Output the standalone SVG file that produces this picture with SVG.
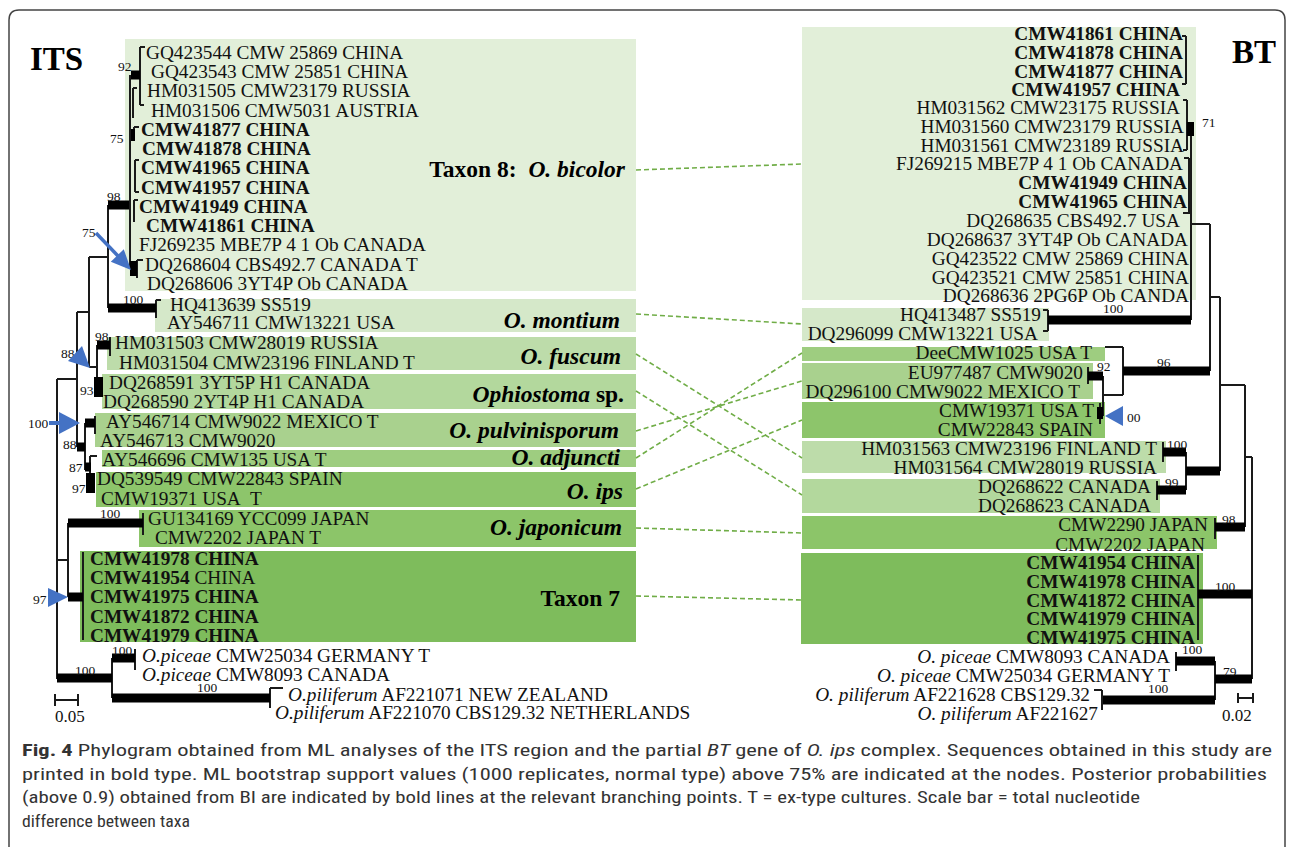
<svg xmlns="http://www.w3.org/2000/svg" width="1290" height="847" viewBox="0 0 1290 847">
<style>
.t{font-family:"Liberation Serif","Times New Roman",serif;font-size:19.3px;fill:#111}
.b{font-weight:bold}
.i{font-style:italic}
.e{text-anchor:end}
.lab{font-family:"Liberation Serif","Times New Roman",serif;font-size:23.5px;font-weight:bold;text-anchor:end;fill:#000}
.bs{font-family:"Liberation Serif","Times New Roman",serif;font-size:13.5px;fill:#111}
.ttl{font-family:"Liberation Serif","Times New Roman",serif;font-size:33px;font-weight:bold;fill:#000}
.ln{stroke:#1a1a1a;stroke-width:2;fill:none}
.tk{stroke:#000;stroke-width:9;fill:none}
.dash{stroke:#70ad47;stroke-width:1.6;stroke-dasharray:5 3;fill:none}
.arr{fill:#4472c4}
.cap{font-family:"Liberation Sans Narrow","Roboto Condensed","Open Sans",sans-serif;font-size:17px;fill:#333}
.c1{fill:#e2efd9}.c2{fill:#d5e8c9}.c3{fill:#bddcaa}.c4{fill:#b3d89d}.c5{fill:#a9d18e}.c6{fill:#9ecd80}.c7{fill:#8dc56b}.c8{fill:#8cc569}.c9{fill:#7ebc5c}
</style>
<rect width="1290" height="847" fill="#fff"/>
<path d="M9,847 V20 Q9,10 19,10 H1275 Q1285,10 1285,20 V847" stroke="#444" stroke-width="1.5" fill="none"/>

<text class="ttl" x="30" y="70">ITS</text>
<text class="ttl" x="1232" y="63">BT</text>

<!-- ITS clade boxes -->
<g id="its-bicolor"><rect class="c1" x="125" y="39" width="511" height="252"/>
<text class="lab" x="625" y="177">Taxon 8:&#160; <tspan class="i">O. bicolor</tspan></text>
<text class="t" x="146" y="59">GQ423544 CMW 25869 CHINA</text>
<text class="t" x="151" y="78">GQ423543 CMW 25851 CHINA</text>
<text class="t" x="147" y="97">HM031505 CMW23179 RUSSIA</text>
<text class="t" x="151" y="117">HM031506 CMW5031 AUSTRIA</text>
<text class="t b" x="141" y="136">CMW41877 CHINA</text>
<text class="t b" x="142" y="155">CMW41878 CHINA</text>
<text class="t b" x="141" y="174">CMW41965 CHINA</text>
<text class="t b" x="141" y="194">CMW41957 CHINA</text>
<text class="t b" x="139" y="213">CMW41949 CHINA</text>
<text class="t b" x="146" y="232">CMW41861 CHINA</text>
<text class="t" x="139" y="251">FJ269235 MBE7P 4 1 Ob CANADA</text>
<text class="t" x="145" y="271">DQ268604 CBS492.7 CANADA T</text>
<text class="t" x="147" y="290">DQ268606 3YT4P Ob CANADA</text>
</g>
<g id="its-montium"><rect class="c2" x="155" y="299" width="481" height="33"/>
<text class="lab" x="620" y="328"><tspan class="i">O. montium</tspan></text>
<text class="t" x="170" y="311">HQ413639 SS519</text>
<text class="t" x="167" y="329">AY546711 CMW13221 USA</text>
</g>
<g id="its-fuscum"><rect class="c3" x="107" y="337" width="529" height="33"/>
<text class="lab" x="621" y="364"><tspan class="i">O. fuscum</tspan></text>
<text class="t" x="115" y="349">HM031503 CMW28019 RUSSIA</text>
<text class="t" x="119" y="369">HM031504 CMW23196 FINLAND T</text>
</g>
<g id="its-ophiostoma"><rect class="c4" x="102" y="374" width="534" height="35"/>
<text class="lab" x="624" y="402"><tspan class="i">Ophiostoma</tspan> sp.</text>
<text class="t" x="109" y="389">DQ268591 3YT5P H1 CANADA</text>
<text class="t" x="103" y="408">DQ268590 2YT4P H1 CANADA</text>
</g>
<g id="its-pulvinisporum"><rect class="c5" x="95" y="413" width="541" height="34"/>
<text class="lab" x="619" y="438"><tspan class="i">O. pulvinisporum</tspan></text>
<text class="t" x="106" y="428">AY546714 CMW9022 MEXICO T</text>
<text class="t" x="100" y="447">AY546713 CMW9020</text>
</g>
<g id="its-adjuncti"><rect class="c6" x="102" y="450" width="534" height="17"/>
<text class="lab" x="620" y="465"><tspan class="i">O. adjuncti</tspan></text>
<text class="t" x="102" y="466">AY546696 CMW135 USA T</text>
</g>
<g id="its-ips"><rect class="c7" x="96" y="472" width="540" height="35"/>
<text class="lab" x="623" y="499"><tspan class="i">O. ips</tspan></text>
<text class="t" x="97" y="485">DQ539549 CMW22843 SPAIN</text>
<text class="t" x="101" y="505">CMW19371 USA&#160; T</text>
</g>
<g id="its-japonicum"><rect class="c8" x="139" y="510" width="497" height="37"/>
<text class="lab" x="622" y="535"><tspan class="i">O. japonicum</tspan></text>
<text class="t" x="148" y="525">GU134169 YCC099 JAPAN</text>
<text class="t" x="155" y="544">CMW2202 JAPAN T</text>
</g>
<g id="its-taxon7"><rect class="c9" x="80" y="551" width="556" height="91"/>
<text class="lab" x="620" y="606">Taxon 7</text>
<text class="t b" x="90" y="565">CMW41978 CHINA</text>
<text class="t" x="90" y="584"><tspan class="b">CMW41954</tspan> CHINA</text>
<text class="t b" x="90" y="603">CMW41975 CHINA</text>
<text class="t b" x="90" y="623">CMW41872 CHINA</text>
<text class="t b" x="90" y="642">CMW41979 CHINA</text>
</g>
<g id="its-outgroup">
<text class="t" x="142" y="662"><tspan class="i">O.piceae</tspan> CMW25034 GERMANY T</text>
<text class="t" x="142" y="681"><tspan class="i">O.piceae</tspan> CMW8093 CANADA</text>
<text class="t" x="288" y="701"><tspan class="i">O.piliferum</tspan> AF221071 NEW ZEALAND</text>
<text class="t" x="275" y="719"><tspan class="i">O.piliferum</tspan> AF221070 CBS129.32 NETHERLANDS</text>
</g>

<!-- BT clade boxes -->
<g id="bt-bicolor"><rect class="c1" x="802" y="27" width="394" height="273"/>
<text class="t b e" x="1183" y="40">CMW41861 CHINA</text>
<text class="t b e" x="1183" y="59">CMW41878 CHINA</text>
<text class="t b e" x="1183" y="78">CMW41877 CHINA</text>
<text class="t b e" x="1180" y="96">CMW41957 CHINA</text>
<text class="t e" x="1180" y="114">HM031562 CMW23175 RUSSIA</text>
<text class="t e" x="1184" y="133">HM031560 CMW23179 RUSSIA</text>
<text class="t e" x="1184" y="152">HM031561 CMW23189 RUSSIA</text>
<text class="t e" x="1183" y="170">FJ269215 MBE7P 4 1 Ob CANADA</text>
<text class="t b e" x="1187" y="189">CMW41949 CHINA</text>
<text class="t b e" x="1187" y="208">CMW41965 CHINA</text>
<text class="t e" x="1180" y="227">DQ268635 CBS492.7 USA</text>
<text class="t e" x="1188" y="246">DQ268637 3YT4P Ob CANADA</text>
<text class="t e" x="1189" y="265">GQ423522 CMW 25869 CHINA</text>
<text class="t e" x="1189" y="284">GQ423521 CMW 25851 CHINA</text>
<text class="t e" x="1189" y="302">DQ268636 2PG6P Ob CANDA</text>
</g>
<g id="bt-montium"><rect class="c2" x="802" y="308" width="247" height="33"/>
<text class="t e" x="1041" y="321">HQ413487 SS519</text>
<text class="t e" x="1038" y="340">DQ296099 CMW13221 USA</text>
</g>
<g id="bt-adjuncti"><rect class="c6" x="802" y="347" width="303" height="14"/>
<text class="t e" x="1092" y="359">DeeCMW1025 USA T</text>
</g>
<g id="bt-pulvinisporum"><rect class="c5" x="802" y="363" width="291" height="36"/>
<text class="t e" x="1083" y="379">EU977487 CMW9020</text>
<text class="t e" x="1080" y="398">DQ296100 CMW9022 MEXICO T</text>
</g>
<g id="bt-ips"><rect class="c7" x="802" y="402" width="303" height="36"/>
<text class="t e" x="1094" y="417">CMW19371 USA T</text>
<text class="t e" x="1093" y="436">CMW22843 SPAIN</text>
</g>
<g id="bt-fuscum"><rect class="c3" x="802" y="441" width="364" height="32"/>
<text class="t e" x="1157" y="455">HM031563 CMW23196 FINLAND T</text>
<text class="t e" x="1157" y="474">HM031564 CMW28019 RUSSIA</text>
</g>
<g id="bt-ophiostoma"><rect class="c4" x="802" y="479" width="358" height="34"/>
<text class="t e" x="1151" y="493">DQ268622 CANADA</text>
<text class="t e" x="1151" y="512">DQ268623 CANADA</text>
</g>
<g id="bt-japonicum"><rect class="c8" x="802" y="516" width="415" height="33"/>
<text class="t e" x="1208" y="531">CMW2290 JAPAN</text>
<text class="t e" x="1205" y="551">CMW2202 JAPAN</text>
</g>
<g id="bt-taxon7"><rect class="c9" x="801" y="553" width="402" height="91"/>
<text class="t b e" x="1195" y="569">CMW41954 CHINA</text>
<text class="t b e" x="1195" y="588">CMW41978 CHINA</text>
<text class="t b e" x="1195" y="607">CMW41872 CHINA</text>
<text class="t b e" x="1195" y="625">CMW41979 CHINA</text>
<text class="t b e" x="1195" y="644">CMW41975 CHINA</text>
</g>
<g id="bt-outgroup">
<text class="t e" x="1170" y="663"><tspan class="i">O. piceae</tspan> CMW8093 CANADA</text>
<text class="t e" x="1170" y="682"><tspan class="i">O. piceae</tspan> CMW25034 GERMANY T</text>
<text class="t e" x="1090" y="701"><tspan class="i">O. piliferum</tspan> AF221628 CBS129.32</text>
<text class="t e" x="1098" y="720"><tspan class="i">O. piliferum</tspan> AF221627</text>
</g>

<!-- ITS tree -->
<g id="its-tree">
<path class="ln" d="M57,379 V679 M57,379 H77 M77,312 V447 M77,312 H89 M89,257 V367 M89,257 H108 M108,205 V308 M130,75 V268 M140,47 V105 M140,47 H145 M140,105 H144 M133,88 V118 M133,88 H137 M134,127 V141 M134,127 H139 M135,160 V192 M135,160 H139 M135,192 H139 M134,200 V222 M134,200 H138 M137,260 V278 M137,260 H143 M156,300 V318 M156,300 H161 M89,367 H97 M97,345 V397 M110,337 V356 M95,416 V434 M85,423 V470 M90,456 V493 M90,456 H97 M57,560 H68 M143,513 V535 M112,658 V698 M135,649 V670 M270,688 V708 M270,688 H283"/>
<path class="ln" d="M68,523 V597 M83,552 V640" stroke-width="3"/>
<path class="tk" d="M108,205 H129 M131,75 H140 M108,308 H156 M97,345 H110 M77,447 H85 M85,423 H95 M85,467 H91 M68,523 H143 M68,597 H83"/>
<path class="tk" d="M57,678 H112 M112,658 H135 M112,698 H270" stroke-width="10"/>
<path class="tk" d="M98.5,377 V397 M90.5,473 V493" stroke-width="3.5"/>
<rect x="131" y="129" width="4" height="12" fill="#000"/>
<rect x="130" y="261" width="7" height="15" fill="#000"/>
<path class="ln" d="M55,700 H78 M55,694 V706 M78,694 V706"/>
<text class="t" x="55" y="722" style="font-size:17px">0.05</text>
<text class="bs" x="118" y="71">92</text>
<text class="bs" x="110" y="143">75</text>
<text class="bs" x="107" y="201">98</text>
<text class="bs" x="82" y="237">75</text>
<text class="bs" x="123" y="304">100</text>
<text class="bs" x="95" y="341">98</text>
<text class="bs" x="61" y="358">88</text>
<text class="bs" x="80" y="395">93</text>
<text class="bs" x="28" y="428">100</text>
<text class="bs" x="63" y="449">88</text>
<text class="bs" x="69" y="472">87</text>
<text class="bs" x="72" y="493">97</text>
<text class="bs" x="100" y="518">100</text>
<text class="bs" x="33" y="604">97</text>
<text class="bs" x="112" y="655">100</text>
<text class="bs" x="75" y="675">100</text>
<text class="bs" x="197" y="692">100</text>
</g>

<!-- BT tree -->
<g id="bt-tree">
<path class="ln" d="M1186,36 V84 M1182,36 H1186 M1182,84 H1186 M1187,100 V150 M1183,100 H1187 M1183,150 H1187 M1189,158 V213 M1184,158 H1189 M1183,213 H1191 M1191,128 V320 M1191,224 H1210 M1210,224 V371 M1210,297 H1220 M1220,297 V471 M1220,385 H1245 M1245,385 V527 M1245,457 H1252 M1252,457 V679 M1048,310 V331 M1043,310 H1048 M1043,331 H1048 M1123,347 V395 M1105,347 H1123 M1103,395 H1123 M1103,376 V416 M1088,367 V384 M1100,403 V424 M1163,442 V462 M1157,481 V500 M1186,452 V490 M1215,518 V539 M1198,555 V640 M1176,652 V671 M1215,661 V700 M1102,690 V710 M1094,690 H1102" stroke-width="1.6"/>
<rect x="1187" y="122" width="7" height="14" fill="#000"/>
<rect x="1097" y="407" width="6" height="12" fill="#000"/>
<path class="tk" d="M1048,320 H1191 M1123,371 H1210 M1088,376 H1103 M1163,452 H1186 M1157,490 H1186 M1186,471 H1220 M1215,527 H1245 M1198,594 H1252 M1176,661 H1215 M1215,679 H1252 M1103,700 H1215"/>
<path class="ln" d="M1238,698 H1253 M1238,693 V703 M1253,693 V703" stroke-width="1.6"/>
<text class="t" x="1222" y="721" style="font-size:17px">0.02</text>
<text class="bs" x="1202" y="127">71</text>
<text class="bs" x="1103" y="313">100</text>
<text class="bs" x="1097" y="371">92</text>
<text class="bs" x="1157" y="367">96</text>
<text class="bs" x="1127" y="422">00</text>
<text class="bs" x="1167" y="449">100</text>
<text class="bs" x="1165" y="487">99</text>
<text class="bs" x="1222" y="524">98</text>
<text class="bs" x="1215" y="591">100</text>
<text class="bs" x="1182" y="654">100</text>
<text class="bs" x="1223" y="676">79</text>
<text class="bs" x="1148" y="693">100</text>
</g>

<!-- blue arrows -->
<g id="arrows">
<path d="M96,233 L118,256" stroke="#4472c4" stroke-width="3.5"/>
<polygon class="arr" points="131,270 110.8,261.7 123.8,249.3"/>
<polygon class="arr" points="68,361 82,346 90,368"/>
<path d="M49,423 H61" stroke="#4472c4" stroke-width="4"/>
<polygon class="arr" points="59,412 59,434 80,423"/>
<polygon class="arr" points="48,588 48,607 68,597"/>
<polygon class="arr" points="1105,416 1123,406 1123,426"/>
</g>

<!-- connectors -->
<g id="connectors">
<path class="dash" d="M636,170 L802,164"/>
<path class="dash" d="M636,314 L802,324"/>
<path class="dash" d="M636,354 L802,458"/>
<path class="dash" d="M636,391 L802,495"/>
<path class="dash" d="M636,431 L802,381"/>
<path class="dash" d="M636,458 L802,353"/>
<path class="dash" d="M636,489 L802,420"/>
<path class="dash" d="M636,528 L802,533"/>
<path class="dash" d="M636,596 L802,600"/>
</g>

<!-- caption -->
<g id="caption">
<text class="cap" x="22" y="756" textLength="1250" lengthAdjust="spacingAndGlyphs"><tspan font-weight="bold">Fig. 4</tspan> Phylogram obtained from ML analyses of the ITS region and the partial <tspan font-style="italic">BT</tspan> gene of <tspan font-style="italic">O. ips</tspan> complex. Sequences obtained in this study are</text>
<text class="cap" x="22" y="780" textLength="1245" lengthAdjust="spacingAndGlyphs">printed in bold type. ML bootstrap support values (1000 replicates, normal type) above 75% are indicated at the nodes. Posterior probabilities</text>
<text class="cap" x="22" y="803" textLength="1118" lengthAdjust="spacingAndGlyphs">(above 0.9) obtained from BI are indicated by bold lines at the relevant branching points. T = ex-type cultures. Scale bar = total nucleotide</text>
<text class="cap" x="22" y="827" textLength="168" lengthAdjust="spacingAndGlyphs">difference between taxa</text>
</g>
</svg>
